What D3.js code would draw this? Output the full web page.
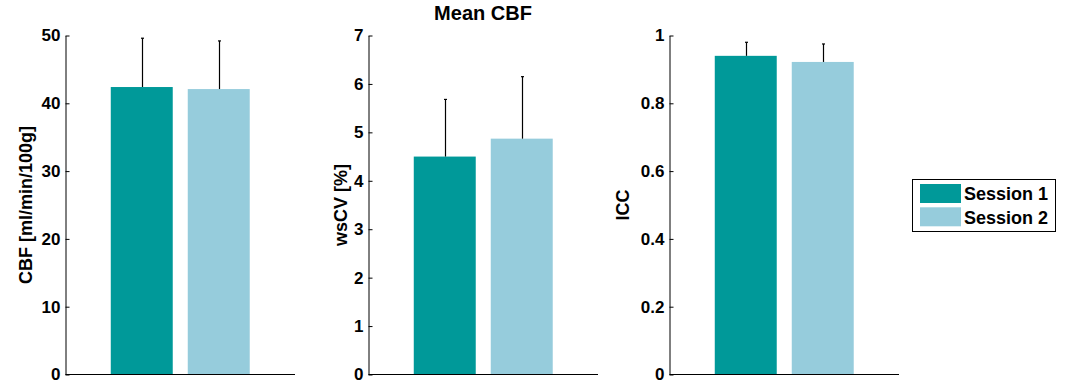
<!DOCTYPE html>
<html>
<head>
<meta charset="utf-8">
<script src="https://cdn.jsdelivr.net/npm/d3@7"></script>
<style>
  html, body { margin: 0; padding: 0; background: #fff; }
  svg { display: block; font-family: "Liberation Sans", Arial, sans-serif; font-weight: bold; }
</style>
</head>
<body>
<svg id="chart" width="1065" height="390"></svg>
<script>
// ---- data ----
const sessions = ["Session 1", "Session 2"];
const panelLabels = ["CBF [ml/min/100g]", "wsCV [%]", "ICC"];
const session1Mean = [42.4, 4.5, 0.940];
const session1Err  = [7.2, 1.18, 0.040];
const session2Mean = [42.1, 4.87, 0.922];
const session2Err  = [7.1, 1.28, 0.053];
const yMax = [50, 7, 1];
const tickValues = [
  [0, 10, 20, 30, 40, 50],
  [0, 1, 2, 3, 4, 5, 6, 7],
  [0, 0.2, 0.4, 0.6, 0.8, 1]
];
const tickLabels = [
  ["0", "10", "20", "30", "40", "50"],
  ["0", "1", "2", "3", "4", "5", "6", "7"],
  ["0", "0.2", "0.4", "0.6", "0.8", "1"]
];
const title = "Mean CBF";
const colors = ["#009999", "#96ccdc"];

// ---- layout ----
const svg = d3.select("#chart");
const panelX = [65.5, 368.5, 669.5];
const panelW = 229.5;
const yTop = 35.5, yBot = 374.5;
const labelX = [32, 347, 629];

panelX.forEach((x0, i) => {
  const g = svg.append("g");
  const x = d3.scaleBand().domain(sessions).range([x0, x0 + panelW])
    .paddingInner(0.195).paddingOuter(0.588);
  const y = d3.scaleLinear().domain([0, yMax[i]]).range([yBot, yTop]);

  const rows = [
    { s: sessions[0], m: session1Mean[i], e: session1Err[i], c: colors[0] },
    { s: sessions[1], m: session2Mean[i], e: session2Err[i], c: colors[1] }
  ];

  // bars
  g.selectAll("rect.bar").data(rows).enter().append("rect")
    .attr("x", d => x(d.s))
    .attr("width", x.bandwidth())
    .attr("y", d => y(d.m))
    .attr("height", d => y(0) - y(d.m))
    .attr("fill", d => d.c);

  // error bars (upper only)
  rows.forEach(d => {
    const cx = Math.round(x(d.s) + x.bandwidth() / 2) + 0.5;
    g.append("line").attr("x1", cx).attr("x2", cx)
      .attr("y1", y(d.m)).attr("y2", y(d.m + d.e))
      .attr("stroke", "#000").attr("stroke-width", 1.2);
    g.append("line").attr("x1", cx - 1.5).attr("x2", cx + 1.5)
      .attr("y1", y(d.m + d.e)).attr("y2", y(d.m + d.e))
      .attr("stroke", "#000").attr("stroke-width", 1.2);
  });

  // y axis
  const yAxis = d3.axisLeft(y).tickValues(tickValues[i])
    .tickFormat((d, k) => tickLabels[i][k])
    .tickSizeInner(-4).tickSizeOuter(0).tickPadding(5);
  const ag = g.append("g").attr("transform", `translate(${x0},0)`).call(yAxis);
  ag.select(".domain").attr("stroke", "#000");
  ag.selectAll(".tick line").attr("stroke", "#000");
  ag.selectAll(".tick text")
    .attr("x", -5)
    .attr("font-size", 17).attr("font-weight", "bold")
    .attr("font-family", "Liberation Sans, Arial, sans-serif")
    .attr("fill", "#000");

  // x axis line
  g.append("line").attr("x1", x0).attr("x2", x0 + panelW)
    .attr("y1", yBot).attr("y2", yBot).attr("stroke", "#000");

  // y label
  g.append("text")
    .attr("transform", `translate(${labelX[i]},${(yTop + yBot) / 2}) rotate(-90)`)
    .attr("text-anchor", "middle")
    .attr("font-size", 18)
    .text(panelLabels[i]);
});

// title
svg.append("text").attr("x", 483).attr("y", 20)
  .attr("text-anchor", "middle").attr("font-size", 20).text(title);

// legend
const lg = svg.append("g");
lg.append("rect").attr("x", 912.5).attr("y", 179.5).attr("width", 143).attr("height", 52)
  .attr("fill", "#fff").attr("stroke", "#000");
sessions.forEach((s, k) => {
  lg.append("rect").attr("x", 920).attr("y", 184 + k * 23.3).attr("width", 41).attr("height", 19)
    .attr("fill", colors[k]);
  lg.append("text").attr("x", 964).attr("y", 200 + k * 24).attr("font-size", 18).text(s);
});
</script>
</body>
</html>
